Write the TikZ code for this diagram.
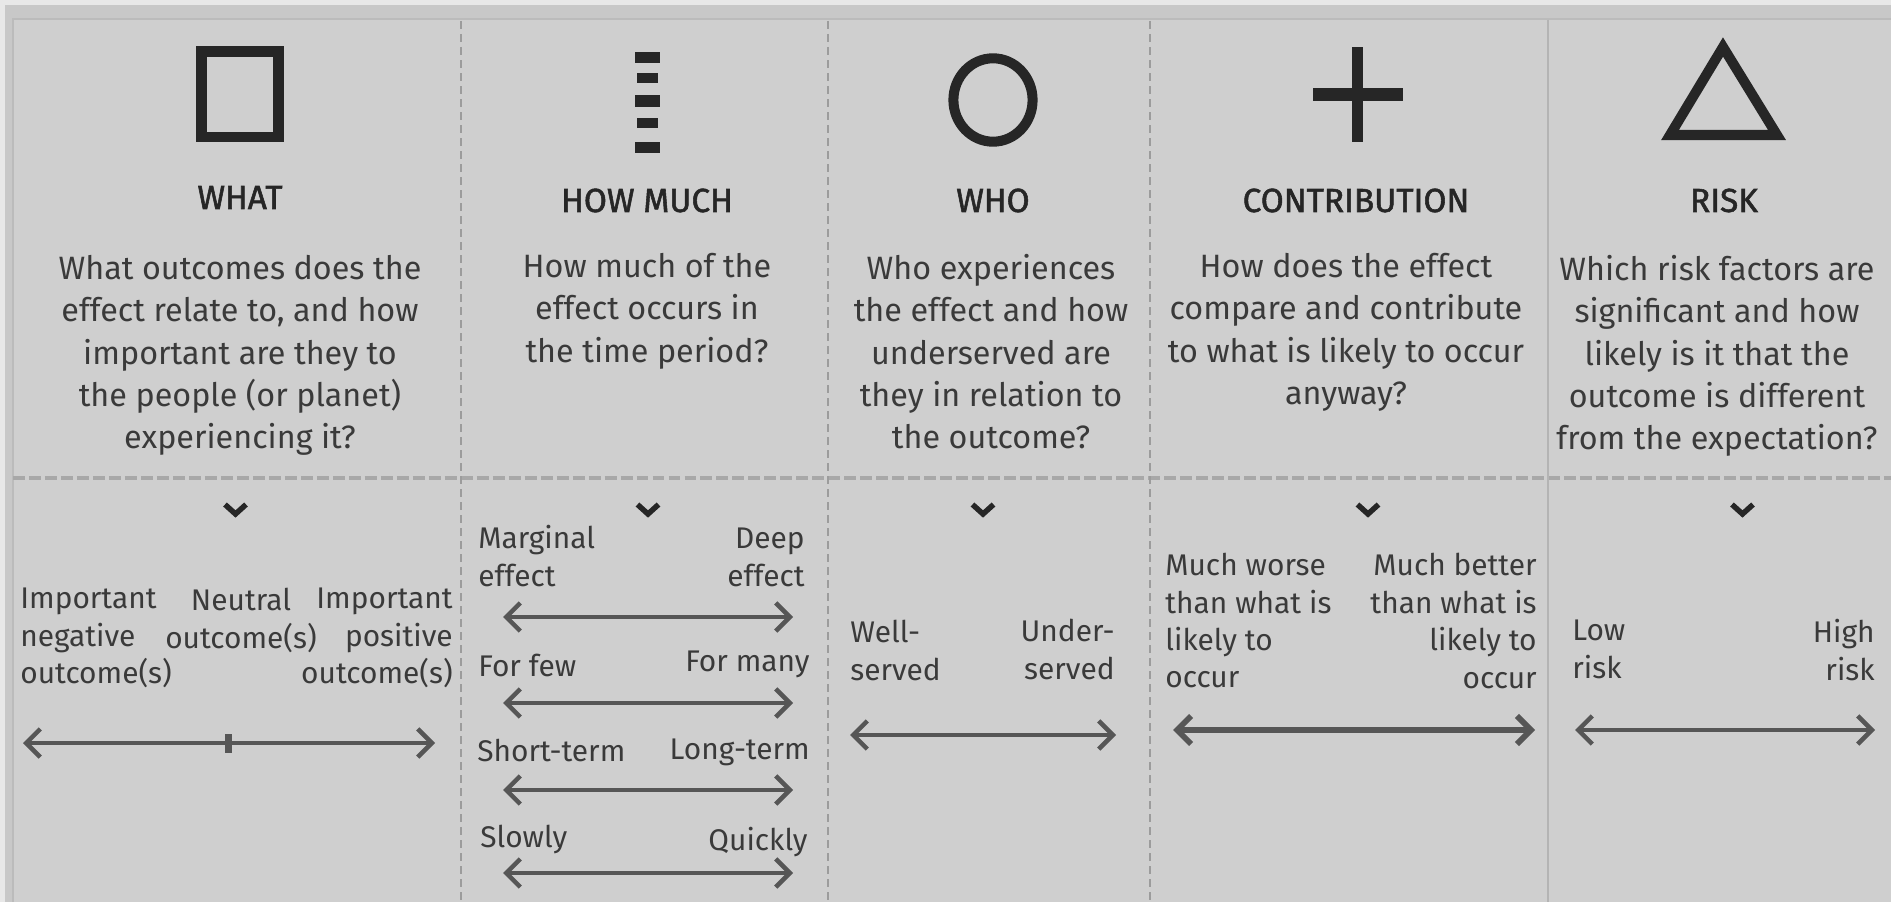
\documentclass[tikz,border=0pt]{standalone}
\usepackage{fontspec}
\setmainfont{Fira Sans}
\newfontfamily\titlefont[FakeBold=1.6]{Fira Sans}
\usetikzlibrary{arrows.meta}
\definecolor{panel}{HTML}{CFCFCF}
\definecolor{band}{HTML}{C8C8C8}
\definecolor{edgeline}{HTML}{BBBBBB}
\definecolor{paper}{HTML}{E8E8E8}
\definecolor{divider}{HTML}{9C9C9C}
\definecolor{hdash}{HTML}{A8A8A8}
\definecolor{iconc}{HTML}{262626}
\definecolor{ink}{HTML}{3A3A3A}
\definecolor{arrowc}{HTML}{565656}
\definecolor{soliddiv}{HTML}{B4B4B4}
\tikzset{
  title/.style={font=\fontsize{19}{22}\titlefont, text=iconc, inner sep=0pt, anchor=base},
  body/.style={font=\fontsize{18.4}{24.1}\selectfont, text=ink, align=center, inner sep=0pt, anchor=north},
  lab/.style={font=\fontsize{17}{21.3}\selectfont, text=ink, inner sep=0pt},
  labl/.style={lab, align=left, anchor=north west},
  labr/.style={lab, align=right, anchor=north east},
  labc/.style={lab, align=center, anchor=north},
  scalearrow/.style={draw=arrowc, line width=2.6pt, {Straight Barb[length=8pt,width=16pt]}-{Straight Barb[length=8pt,width=16pt]}},
  chevron/.style={draw=iconc, line width=3.1pt, line join=miter},
  vdiv/.style={draw=divider, line width=1.1pt, dash pattern=on 4.6pt off 2.8pt},
  hdiv/.style={draw=hdash, line width=2.3pt, dash pattern=on 6.8pt off 2.3pt},
  iconline/.style={draw=iconc, line width=5.7pt, line join=miter},
}
\begin{document}
\begin{tikzpicture}[x=0.02cm,y=-0.02cm]
\useasboundingbox (0,0) rectangle (1891,902);
% frame
\fill[paper] (0,0) rectangle (1891,902);
\fill[band] (5,5) rectangle (1891,902);
\fill[panel] (13,19) rectangle (1891,902);
\draw[edgeline, line width=1.2pt] (13,902) -- (13,19) -- (1891,19);
% dividers
\draw[hdiv] (13,478) -- (1891,478);
\draw[vdiv] (461,21) -- (461,902);
\draw[vdiv] (828,21) -- (828,902);
\draw[vdiv] (1150,21) -- (1150,902);
\draw[soliddiv, line width=1.1pt] (1548,20) -- (1548,902);

% icons
\draw[iconline] (201.5,51.5) rectangle (278.5,137);
\fill[iconc] (635,52) rectangle (660,63);
\fill[iconc] (637,73) rectangle (658,83);
\fill[iconc] (635,95) rectangle (660,107);
\fill[iconc] (637,118) rectangle (658,128);
\fill[iconc] (635,142) rectangle (660,153);
\draw[iconline] (993,100) ellipse [x radius=0.792cm, y radius=0.834cm];
\fill[iconc] (1352,47) rectangle (1363,142);
\fill[iconc] (1313,88) rectangle (1403,101);
\draw[iconline] (1723,47) -- (1777,135) -- (1670,135) -- cycle;

% titles
\node[title] (t1) at (240,209) {WHAT};
\node[title] (t2) at (647,212) {HOW MUCH};
\node[title] (t3) at (993,212) {WHO};
\node[title] (t4) at (1356,212) {CONTRIBUTION};
\node[title] (t5) at (1724,212) {RISK};

% questions
\node[body] (q1) at (240,255) {What outcomes does the\\effect relate to, and how\\important are they to\\the people (or planet)\\experiencing it?};
\node[body] (q2) at (647,253) {How much of the\\effect occurs in\\the time period?};
\node[body] (q3) at (991,254) {Who experiences\\the effect and how\\underserved are\\they in relation to\\the outcome?};
\node[body] (q4) at (1346,253) {How does the effect\\compare and contribute\\to what is likely to occur\\anyway?};
\node[body] (q5) at (1717,255) {Which risk factors are\\significant and how\\likely is it that the\\outcome is different\\from the expectation?};

% chevrons
\foreach \cx in {235.5,648,983,1368,1742.5}
  \draw[chevron] (\cx-10.5,504.5) -- (\cx,514) -- (\cx+10.5,504.5);

% column 1 scale
\node[labl] (w1) at (20,588) {Important\\negative\\outcome(s)};
\node[labc] (w2) at (241,588) {Neutral\\outcome(s)};
\node[labr] (w3) at (453,588) {Important\\positive\\outcome(s)};
\coordinate (a1l) at (23,743);
\coordinate (a1r) at (435,743);
\draw[scalearrow] (a1l) -- (a1r);
\fill[arrowc] (225,734) rectangle (232,753);

% column 2 scales
\node[labl] (h1l) at (478,525) {Marginal\\effect};
\node[labr] (h1r) at (805,528) {Deep\\effect};
\coordinate (a2l) at (503,617);
\coordinate (a2r) at (793,617);
\draw[scalearrow] (a2l) -- (a2r);
\node[labl] (h2l) at (478,654) {For few};
\node[labr] (h2r) at (810,651) {For many};
\coordinate (a3l) at (503,703);
\coordinate (a3r) at (793,703);
\draw[scalearrow] (a3l) -- (a3r);
\node[labl] (h3l) at (477,739) {Short-term};
\node[labr] (h3r) at (810,739) {Long-term};
\coordinate (a4l) at (503,790);
\coordinate (a4r) at (793,790);
\draw[scalearrow] (a4l) -- (a4r);
\node[labl] (h4l) at (480,825) {Slowly};
\node[labr] (h4r) at (808,827) {Quickly};
\coordinate (a5l) at (503,873);
\coordinate (a5r) at (793,873);
\draw[scalearrow] (a5l) -- (a5r);

% column 3 scale
\node[labl] (s1) at (850,620) {Well-\\served};
\node[labr] (s2) at (1115,619) {Under-\\served};
\coordinate (a6l) at (850,735);
\coordinate (a6r) at (1116,735);
\draw[scalearrow] (a6l) -- (a6r);

% column 4 scale
\node[labl] (c1) at (1165,553) {Much worse\\than what is\\likely to\\occur};
\node[labr] (c2) at (1537,553) {Much better\\than what is\\likely to\\occur};
\coordinate (a7l) at (1173,730);
\coordinate (a7r) at (1535,730);
\draw[scalearrow, line width=3.3pt] (a7l) -- (a7r);

% column 5 scale
\node[labl] (r1) at (1572,620) {Low\\risk};
\node[labr] (r2) at (1875,619) {High\\risk};
\coordinate (a8l) at (1575,730);
\coordinate (a8r) at (1875,730);
\draw[scalearrow] (a8l) -- (a8r);
\end{tikzpicture}
\end{document}
